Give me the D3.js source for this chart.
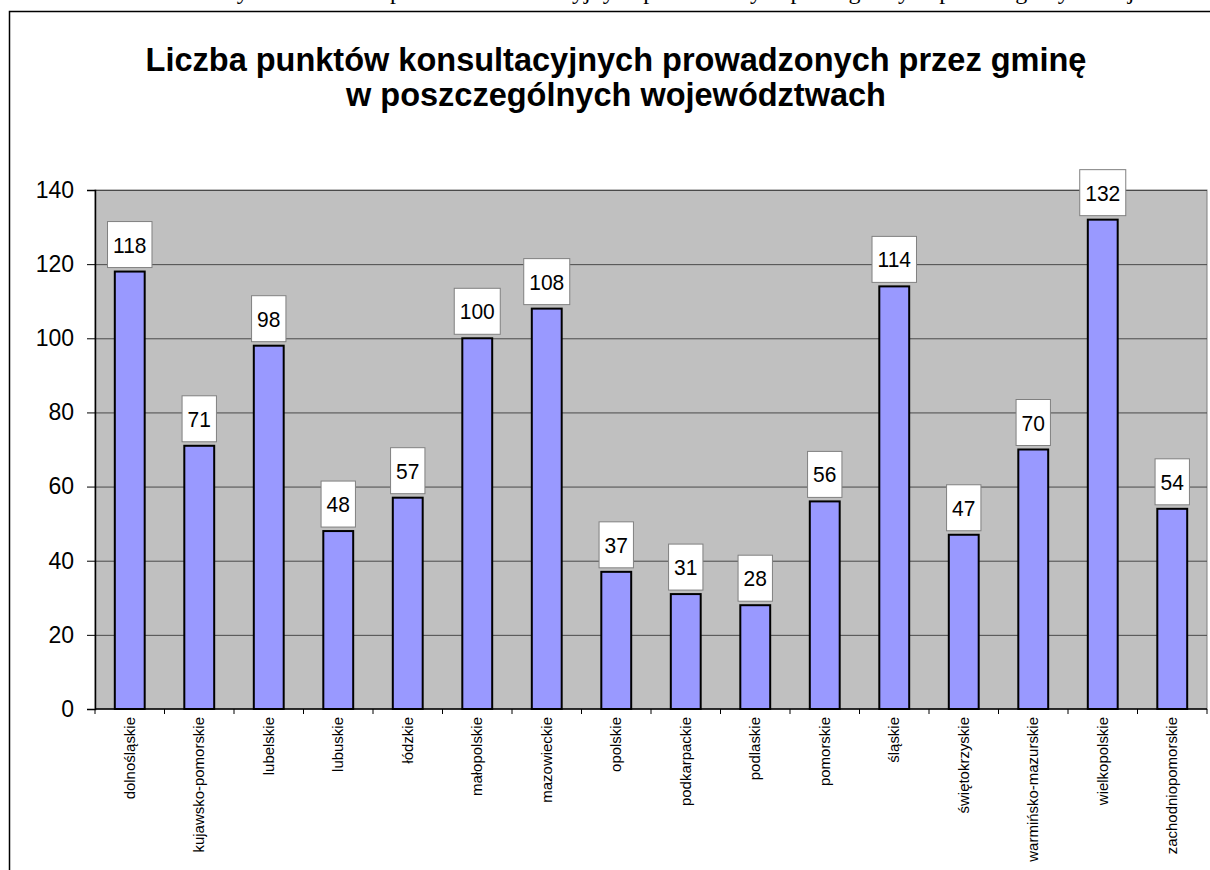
<!DOCTYPE html>
<html>
<head>
<meta charset="utf-8">
<script src="https://cdn.jsdelivr.net/npm/d3@7"></script>
<style>
  body { margin: 0; background: #fff; }
  svg { display: block; }
</style>
</head>
<body>
<div id="chart"></div>
<script>
const categories = ["dolnośląskie", "kujawsko-pomorskie", "lubelskie", "lubuskie", "łódzkie",
  "małopolskie", "mazowieckie", "opolskie", "podkarpackie", "podlaskie", "pomorskie",
  "śląskie", "świętokrzyskie", "warmińsko-mazurskie", "wielkopolskie", "zachodniopomorskie"];
const values = [118, 71, 98, 48, 57, 100, 108, 37, 31, 28, 56, 114, 47, 70, 132, 54];
const yTicks = [0, 20, 40, 60, 80, 100, 120, 140];
const titleLines = ["Liczba punktów konsultacyjnych prowadzonych przez gminę",
  "w poszczególnych województwach"];

const W = 1210, H = 870;
const plot = { left: 95, right: 1207, top: 190, bottom: 709 };
const font = "Arial, 'Liberation Sans', sans-serif";

const svg = d3.select("#chart").append("svg")
  .attr("width", W).attr("height", H)
  .style("font-family", font);

// page text above the chart frame (cut off at the top in the source)
svg.append("text")
  .attr("x", 735).attr("y", -1)
  .attr("text-anchor", "middle")
  .style("font-family", "'Liberation Serif', 'Times New Roman', serif")
  .style("font-size", "24px")
  .text("Wykres 1. Liczba punktów konsultacyjnych prowadzonych przez gminy w poszczególnych województwach");

// chart frame
svg.append("rect")
  .attr("x", 9.5).attr("y", 11.5)
  .attr("width", W + 20).attr("height", H + 20)
  .attr("fill", "#fff")
  .attr("stroke", "#000").attr("stroke-width", 1.5);

const x = d3.scaleBand().domain(categories).range([plot.left, plot.right]).padding(0);
const y = d3.scaleLinear().domain([0, 140]).range([plot.bottom, plot.top]);

// plot area
svg.append("rect")
  .attr("x", plot.left).attr("y", plot.top)
  .attr("width", plot.right - plot.left).attr("height", plot.bottom - plot.top)
  .attr("fill", "#c0c0c0")
  .attr("stroke", "#808080").attr("stroke-width", 1);

// gridlines
svg.append("g")
  .selectAll("line")
  .data(yTicks.filter(d => d > 0))
  .join("line")
  .attr("x1", plot.left).attr("x2", plot.right)
  .attr("y1", d => y(d) + 0.5).attr("y2", d => y(d) + 0.5)
  .attr("stroke", "#4a4a4a").attr("stroke-width", 1);

// title
svg.append("g")
  .selectAll("text")
  .data(titleLines)
  .join("text")
  .attr("x", 616)
  .attr("y", (d, i) => 71 + i * 35)
  .attr("text-anchor", "middle")
  .style("font-size", "32.5px")
  .style("font-weight", "bold")
  .text(d => d);

// bars
const bw = x.bandwidth() * 0.43;
svg.append("g")
  .selectAll("rect")
  .data(values)
  .join("rect")
  .attr("x", (d, i) => x(categories[i]) + (x.bandwidth() - bw) / 2)
  .attr("y", d => y(d))
  .attr("width", bw)
  .attr("height", d => y(0) - y(d))
  .attr("fill", "#9999ff")
  .attr("stroke", "#000").attr("stroke-width", 2);

// y axis
const yAxis = svg.append("g")
  .attr("transform", `translate(${plot.left},0)`)
  .call(d3.axisLeft(y).tickValues(yTicks).tickSize(8).tickPadding(13).tickFormat(d3.format("d")));
yAxis.select(".domain").attr("stroke", "#000").attr("stroke-width", 1.5);
yAxis.selectAll(".tick line").attr("stroke", "#000");
yAxis.selectAll(".tick text")
  .attr("fill", "#000")
  .style("font-family", font)
  .style("font-size", "23px");

// x axis line and tick marks at category borders
svg.append("line")
  .attr("x1", plot.left).attr("x2", plot.right)
  .attr("y1", plot.bottom).attr("y2", plot.bottom)
  .attr("stroke", "#000").attr("stroke-width", 1.5);
svg.append("g")
  .selectAll("line")
  .data(categories.concat([null]))
  .join("line")
  .attr("x1", d => d ? x(d) : plot.right)
  .attr("x2", d => d ? x(d) : plot.right)
  .attr("y1", plot.bottom).attr("y2", plot.bottom + 5)
  .attr("stroke", "#000");

// category labels, rotated
svg.append("g")
  .selectAll("text")
  .data(categories)
  .join("text")
  .attr("transform", d => `translate(${x(d) + x.bandwidth() / 2 + 5},${plot.bottom + 8}) rotate(-90) scale(1.07,1)`)
  .attr("text-anchor", "end")
  .style("font-size", "14px")
  .text(d => d);

// value labels in boxes
const lbl = svg.append("g")
  .selectAll("g")
  .data(values)
  .join("g")
  .attr("transform", (d, i) => `translate(${x(categories[i]) + x.bandwidth() / 2},${y(d) - 4})`);
lbl.append("rect").attr("class", "box");
lbl.append("text")
  .attr("text-anchor", "middle")
  .attr("transform", "translate(0,-15) scale(1,1.08)")
  .style("font-size", "21px")
  .text(d => d);
lbl.each(function () {
  const g = d3.select(this);
  const tw = g.select("text").node().getComputedTextLength();
  g.select("rect")
    .attr("x", -tw / 2 - 5.5).attr("y", -46)
    .attr("width", tw + 11).attr("height", 46)
    .attr("fill", "#fff")
    .attr("stroke", "#808080").attr("stroke-width", 1);
});
</script>
</body>
</html>
